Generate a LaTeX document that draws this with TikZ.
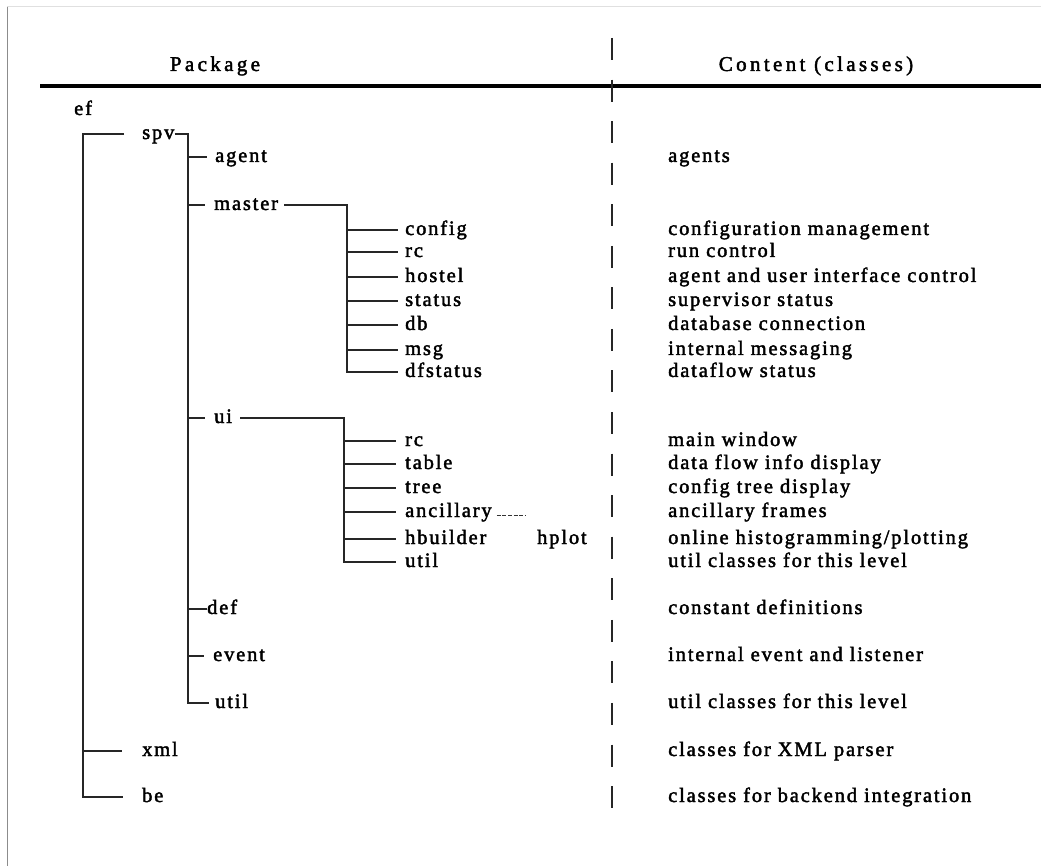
\documentclass[tikz,border=0pt]{standalone}
\usepackage{fontspec}
\setmainfont{Liberation Serif}
\newfontfamily\bodyfont[LetterSpace=9,FakeBold=2]{Liberation Serif}
\newfontfamily\headfont[LetterSpace=16,FakeBold=2]{Liberation Serif}

\tikzset{
  pkg/.style={font={\bodyfont\fontsize{20.5pt}{24pt}\selectfont}, inner sep=0pt,
              text height=10pt, text depth=0pt, anchor=west},
  head/.style={font={\headfont\fontsize{21pt}{25pt}\selectfont}, inner sep=0pt, anchor=base},
  treeline/.style={line width=1.3pt, draw=black!85},
  divider/.style={line width=1.4pt, draw=black!85, dash pattern=on 22pt off 19.56pt},
  dashtail/.style={line width=0.9pt, draw=black!80, dash pattern=on 4pt off 1.6pt},
}

\begin{document}
\begin{tikzpicture}[x=1pt,y=-1pt]
\useasboundingbox (0,0) rectangle (1041,866);
\fill[white] (0,0) rectangle (1041,866);

% page frame
\draw[black!12, line width=1pt] (7,7) -- (1041,7);
\draw[black!45, line width=1.5pt] (7.5,7) -- (7.5,866);

% column headings and rules
\node[head] (hpkg) at (215,71) {Package};
\node[head] (hcontent) at (816,71) {Content (classes)};
\draw[line width=4.5pt] (40,86) -- (1041,86);
\draw[divider] (612,38) -- (612,808);

% package tree
\node[pkg] (ef) at (74,110) {ef};
\node[pkg] (spv) at (142,134) {spv};
\node[pkg] (agent) at (215,157) {agent};
\node[pkg] (master) at (214,205) {master};
\node[pkg] (config) at (405,230) {config};
\node[pkg] (mrc) at (405,252) {rc};
\node[pkg] (hostel) at (405,277) {hostel};
\node[pkg] (status) at (405,301) {status};
\node[pkg] (db) at (405,325) {db};
\node[pkg] (msg) at (405,350) {msg};
\node[pkg] (dfstatus) at (405,372) {dfstatus};
\node[pkg] (ui) at (214,418) {ui};
\node[pkg] (urc) at (405,441) {rc};
\node[pkg] (table) at (405,464) {table};
\node[pkg] (tree) at (405,488) {tree};
\node[pkg] (ancillary) at (405,512) {ancillary};
\node[pkg] (hbuilder) at (405,539) {hbuilder};
\node[pkg] (hplot) at (537,539) {hplot};
\node[pkg] (uutil) at (405,562) {util};
\node[pkg] (def) at (207,609) {def};
\node[pkg] (event) at (213,656) {event};
\node[pkg] (sutil) at (215,703) {util};
\node[pkg] (xml) at (142,751) {xml};
\node[pkg] (be) at (142,797) {be};

% content descriptions
\begin{scope}[every node/.append style={pkg}]
\node (c-agent) at (668,157) {agents};
\node (c-config) at (668,230) {configuration management};
\node (c-mrc) at (668,252) {run control};
\node (c-hostel) at (668,277) {agent and user interface control};
\node (c-status) at (668,301) {supervisor status};
\node (c-db) at (668,325) {database connection};
\node (c-msg) at (668,350) {internal messaging};
\node (c-dfstatus) at (668,372) {dataflow status};
\node (c-urc) at (668,441) {main window};
\node (c-table) at (668,464) {data flow info display};
\node (c-tree) at (668,488) {config tree display};
\node (c-ancillary) at (668,512) {ancillary frames};
\node (c-hbuilder) at (668,539) {online histogramming/plotting};
\node (c-uutil) at (668,562) {util classes for this level};
\node (c-def) at (668,609) {constant definitions};
\node (c-event) at (668,656) {internal event and listener};
\node (c-sutil) at (668,703) {util classes for this level};
\node (c-xml) at (668,751) {classes for XML parser};
\node (c-be) at (668,797) {classes for backend integration};
\end{scope}

% ef level
\coordinate (efbar) at (83,134);
\draw[treeline] ([xshift=-18pt]spv.west) -- (efbar) |- ([xshift=-19pt]be.west);
\draw[treeline] (efbar |- xml.west) -- ([xshift=-20pt]xml.west);

% spv level
\coordinate (spvbar) at (188,134);
\draw[treeline] (spv.east) -- (spvbar) |- ([xshift=-6pt]sutil.west);
\draw[treeline] (spvbar |- agent.west) -- ([xshift=-8pt]agent.west);
\draw[treeline] (spvbar |- master.west) -- ([xshift=-9pt]master.west);
\draw[treeline] (spvbar |- ui.west) -- ([xshift=-9pt]ui.west);
\draw[treeline] (spvbar |- def.west) -- (def.west);
\draw[treeline] (spvbar |- event.west) -- ([xshift=-9pt]event.west);

% master level
\coordinate (mbar) at (347,205);
\draw[treeline] ([xshift=6pt]master.east) -- (mbar) |- ([xshift=-7pt]dfstatus.west);
\foreach \n in {config,mrc,hostel,status,db,msg}
  \draw[treeline] (mbar |- \n.west) -- ([xshift=-7pt]\n.west);

% ui level
\coordinate (ubar) at (344,418);
\draw[treeline] ([xshift=8pt]ui.east) -- (ubar) |- ([xshift=-9pt]uutil.west);
\foreach \n in {urc,table,tree,ancillary,hbuilder}
  \draw[treeline] (ubar |- \n.west) -- ([xshift=-9pt]\n.west);

% short dashed tail after ancillary
\coordinate (anctail) at (525,515);
\draw[dashtail] ([xshift=5pt]ancillary.east |- anctail) -- (anctail);
\end{tikzpicture}
\end{document}
